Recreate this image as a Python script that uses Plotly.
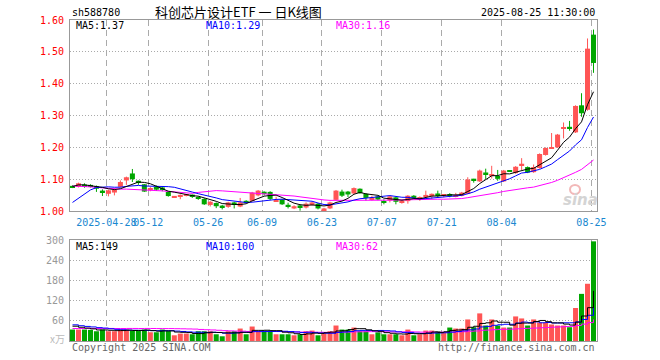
import plotly.graph_objects as go

# ---------------- data ----------------
opens = [1.078, 1.076, 1.082, 1.082, 1.078, 1.064, 1.054, 1.058, 1.076, 1.096,
         1.118, 1.094, 1.084, 1.068, 1.076, 1.074, 1.060, 1.044, 1.047, 1.049,
         1.050, 1.044, 1.038, 1.019, 1.025, 1.016, 1.013, 1.027, 1.014, 1.031,
         1.032, 1.049, 1.060, 1.060, 1.031, 1.036, 1.018, 1.008, 1.016, 1.011,
         1.019, 1.023, 0.999, 1.008, 1.035, 1.061, 1.061, 1.055, 1.070, 1.054,
         1.039, 1.046, 1.030, 1.033, 1.043, 1.029, 1.031, 1.048, 1.040, 1.047,
         1.047, 1.055, 1.049, 1.051, 1.047, 1.048, 1.054, 1.100, 1.093, 1.121,
         1.112, 1.110, 1.093, 1.127, 1.119, 1.145, 1.138, 1.122, 1.135, 1.176,
         1.197, 1.200, 1.259, 1.263, 1.247, 1.332, 1.318, 1.554]
highs = [1.081, 1.089, 1.087, 1.084, 1.080, 1.068, 1.067, 1.071, 1.096, 1.108,
         1.132, 1.096, 1.085, 1.075, 1.080, 1.077, 1.062, 1.047, 1.052, 1.053,
         1.052, 1.046, 1.040, 1.031, 1.027, 1.019, 1.029, 1.029, 1.041, 1.034,
         1.060, 1.066, 1.062, 1.062, 1.045, 1.038, 1.026, 1.018, 1.020, 1.027,
         1.030, 1.025, 1.010, 1.029, 1.066, 1.067, 1.063, 1.074, 1.071, 1.056,
         1.048, 1.048, 1.037, 1.048, 1.045, 1.036, 1.050, 1.050, 1.046, 1.064,
         1.055, 1.064, 1.053, 1.056, 1.057, 1.060, 1.106, 1.101, 1.130, 1.133,
         1.142, 1.129, 1.129, 1.128, 1.141, 1.166, 1.140, 1.146, 1.181, 1.200,
         1.245, 1.242, 1.278, 1.283, 1.332, 1.370, 1.542, 1.570]
lows = [1.072, 1.074, 1.073, 1.074, 1.060, 1.047, 1.046, 1.049, 1.074, 1.082,
        1.091, 1.082, 1.060, 1.062, 1.063, 1.062, 1.045, 1.043, 1.037, 1.046,
        1.041, 1.035, 1.019, 1.014, 1.009, 1.005, 1.010, 1.008, 1.012, 1.026,
        1.030, 1.046, 1.049, 1.034, 1.030, 1.019, 1.008, 1.006, 1.001, 1.008,
        1.017, 1.005, 0.996, 1.006, 1.033, 1.044, 1.044, 1.053, 1.054, 1.033,
        1.033, 1.034, 1.021, 1.027, 1.021, 1.023, 1.023, 1.039, 1.032, 1.038,
        1.038, 1.042, 1.043, 1.043, 1.043, 1.046, 1.053, 1.089, 1.091, 1.100,
        1.102, 1.095, 1.091, 1.124, 1.117, 1.129, 1.119, 1.120, 1.133, 1.174,
        1.195, 1.198, 1.228, 1.252, 1.245, 1.296, 1.315, 1.434]
closes = [1.075, 1.087, 1.079, 1.077, 1.070, 1.058, 1.065, 1.066, 1.091, 1.106,
          1.100, 1.091, 1.061, 1.070, 1.067, 1.066, 1.047, 1.046, 1.049, 1.051,
          1.048, 1.039, 1.021, 1.029, 1.015, 1.013, 1.027, 1.019, 1.027, 1.028,
          1.058, 1.064, 1.056, 1.038, 1.033, 1.021, 1.016, 1.015, 1.014, 1.023,
          1.027, 1.008, 1.008, 1.027, 1.064, 1.048, 1.052, 1.072, 1.056, 1.041,
          1.041, 1.036, 1.028, 1.046, 1.029, 1.031, 1.048, 1.041, 1.042, 1.049,
          1.054, 1.050, 1.051, 1.049, 1.049, 1.058, 1.099, 1.098, 1.127, 1.115,
          1.115, 1.101, 1.127, 1.125, 1.139, 1.147, 1.121, 1.138, 1.179, 1.198,
          1.200, 1.240, 1.262, 1.261, 1.330, 1.307, 1.510, 1.465]
volumes = [34, 34, 34, 33, 29, 34, 29, 29, 34, 34,
           30, 30, 34, 26, 26, 34, 30, 17, 22, 22,
           20, 29, 29, 29, 20, 14, 29, 29, 37, 20,
           43, 29, 31, 31, 20, 20, 20, 17, 20, 29,
           31, 17, 26, 29, 46, 34, 34, 40, 29, 29,
           20, 26, 20, 20, 20, 17, 34, 17, 20, 31,
           31, 29, 26, 40, 37, 37, 64, 41, 82, 46,
           64, 46, 40, 40, 73, 67, 46, 64, 55, 55,
           49, 46, 46, 41, 98, 140, 170, 296]
# closes / volumes of the 29 sessions before the window (inferred from where the MA lines start)
prior_closes = [1.105, 1.112, 1.118, 1.110, 1.115, 1.120, 1.108, 1.112, 1.106, 1.114,
                1.110, 1.104, 1.098, 1.102, 1.095, 1.100, 1.092, 1.096, 1.090, 1.093,
                0.952, 0.940, 0.958, 0.994, 1.040, 1.062, 1.078, 1.090, 1.080]
prior_volumes = [30, 28, 35, 32, 27, 33, 38, 30, 29, 31,
                 34, 28, 30, 33, 36, 29, 27, 32, 35, 33,
                 60, 55, 48, 50, 47, 50, 46, 45, 45]
tick_bars = [6, 13, 23, 32, 42, 52, 62, 72, 87]
tick_labels = ["2025-04-28", "05-12", "05-26", "06-09", "06-23", "07-07", "07-21", "08-04", "08-25"]
price_ticks = [1.00, 1.10, 1.20, 1.30, 1.40, 1.50, 1.60]
volume_ticks = [60, 120, 180, 240, 300]

# ---------------- helpers ----------------
W, H = 660, 360
L, R, T, B = 70, 597, 20, 211
VT, VB = 240, 341
UP, DOWN = "#ff5555", "#00a600"
MONO = "DejaVu Sans Mono"


def px(x):
    return x / W


def py(y):
    return 1 - y / H


def moving_avg(prior, series, n):
    full = list(prior) + list(series)
    off = len(prior)
    out = []
    for i in range(len(series)):
        w = full[off + i - n + 1: off + i + 1]
        out.append(sum(w) / len(w))
    return out


n = len(closes)
xs = list(range(n))
up = [closes[i] >= opens[i] for i in xs]

fig = go.Figure()

# wicks
for flag, col in ((True, UP), (False, DOWN)):
    wx, wy = [], []
    for i in xs:
        if up[i] == flag:
            wx += [i, i, None]
            wy += [lows[i], highs[i], None]
    fig.add_trace(go.Scatter(x=wx, y=wy, mode="lines", line=dict(color=col, width=1),
                             xaxis="x", yaxis="y", hoverinfo="skip"))

# bodies
for flag, col in ((True, UP), (False, DOWN)):
    bx, bh, bb = [], [], []
    for i in xs:
        if up[i] == flag:
            lo, hi = min(opens[i], closes[i]), max(opens[i], closes[i])
            h = max(hi - lo, 0.005)
            bx.append(i)
            bh.append(h)
            bb.append((lo + hi) / 2 - h / 2)
    fig.add_trace(go.Bar(x=bx, y=bh, base=bb, width=0.84, marker=dict(color=col, line=dict(width=0)),
                         xaxis="x", yaxis="y", hoverinfo="skip"))

# price MAs
for nn, col in ((30, "#ff00ff"), (10, "#0000ff"), (5, "#000000")):
    fig.add_trace(go.Scatter(x=xs, y=moving_avg(prior_closes, closes, nn), mode="lines",
                             line=dict(color=col, width=1), xaxis="x", yaxis="y", hoverinfo="skip"))

# volume bars
fig.add_trace(go.Bar(x=xs, y=volumes, width=0.84,
                     marker=dict(color=[UP if u else DOWN for u in up], line=dict(width=0)),
                     xaxis="x2", yaxis="y2", hoverinfo="skip"))
for nn, col in ((30, "#ff00ff"), (10, "#0000ff"), (5, "#000000")):
    fig.add_trace(go.Scatter(x=xs, y=moving_avg(prior_volumes, volumes, nn), mode="lines",
                             line=dict(color=col, width=1, shape="hv"), xaxis="x2", yaxis="y2",
                             hoverinfo="skip"))

xr = [-2.5 / 6, n - 1 + 3.5 / 6]
tickpos = [b - 0.35 for b in tick_bars]
common_x = dict(range=xr, domain=[px(L), px(R)], tickmode="array", tickvals=tickpos,
                showgrid=True, gridcolor="#aaaaaa", griddash="6px,4px", gridwidth=1,
                showline=True, linecolor="#999999", linewidth=1, mirror=True,
                zeroline=False, ticks="", fixedrange=True, automargin=False)
common_y = dict(showgrid=True, gridcolor="#aaaaaa", griddash="1px,2px", gridwidth=1,
                showline=True, linecolor="#999999", linewidth=1, mirror=True,
                zeroline=False, ticks="", tickmode="array", ticklabelstandoff=3,
                automargin=False, fixedrange=True)

fig.update_layout(
    width=W, height=H, autosize=False, margin=dict(l=0, r=0, t=0, b=0, pad=0),
    paper_bgcolor="white", plot_bgcolor="white", showlegend=False,
    barmode="overlay",
    xaxis=dict(common_x, anchor="y", ticktext=tick_labels, tickangle=0,
               tickfont=dict(family=MONO, size=10, color="#1a88d0"), ticklabelstandoff=2),
    yaxis=dict(common_y, domain=[py(B), py(T)], range=[1.0, 1.6], anchor="x",
               tickvals=price_ticks, ticktext=["%.2f" % v for v in price_ticks],
               tickfont=dict(family=MONO, size=10, color="#ff0000")),
    xaxis2=dict(common_x, anchor="y2", showticklabels=False),
    yaxis2=dict(common_y, domain=[py(VB), py(VT)], range=[0, 300], anchor="x2",
                tickvals=volume_ticks, ticktext=[str(v) for v in volume_ticks],
                tickfont=dict(family=MONO, size=10, color="#999999")),
)


def txt(x, y, s, color="#000000", size=10, xanchor="left", family=MONO, **kw):
    fig.add_annotation(x=px(x), y=py(y), xref="paper", yref="paper", text=s, showarrow=False,
                       xanchor=xanchor, yanchor="middle", font=dict(family=family, size=size, color=color),
                       **kw)


txt(70, 13, "sh588780")
txt(238, 12, "科创芯片设计ETF 一 日K线图", size=13, xanchor="center", family="Noto Sans CJK SC")
txt(597, 13, "2025-08-25 11:30:00", xanchor="right")
txt(74, 26, "MA5:1.37")
txt(204, 26, "MA10:1.29", color="#0000ff")
txt(334, 26, "MA30:1.16", color="#ff00ff")
txt(74, 246, "MA5:149")
txt(204, 246, "MA10:100", color="#0000ff")
txt(334, 246, "MA30:62", color="#ff00ff")
txt(67, 338, "x万", color="#bbbbbb", xanchor="right", family="Noto Sans CJK SC", size=10)
txt(70, 347, "Copyright 2025 SINA.COM", color="#666666")
txt(597, 347, "http://finance.sina.com.cn", color="#666666", xanchor="right")
txt(580, 200, "<b><i>sina</i></b>", color="#d4d4d4", size=15, xanchor="center", family="DejaVu Sans")
fig.add_shape(type="circle", xref="paper", yref="paper",
              x0=px(570), x1=px(580), y0=py(194), y1=py(185),
              line=dict(color="#f2b8b8", width=2), fillcolor="rgba(0,0,0,0)")

fig.write_html("out.html", config={"displayModeBar": False},
               post_script="document.body.style.margin='0';")
